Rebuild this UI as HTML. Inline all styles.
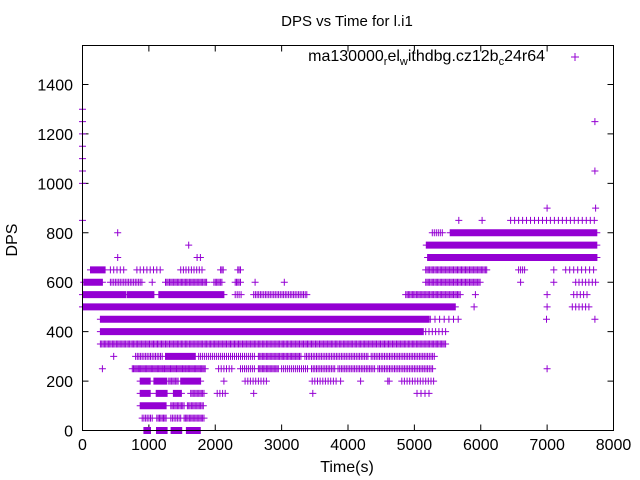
<!DOCTYPE html>
<html><head><meta charset="utf-8"><style>
body{margin:0;background:#fff}
svg{display:block;font-family:"Liberation Sans",sans-serif}
</style></head><body>
<svg id="c" width="640" height="480">
<rect width="640" height="480" fill="#fff"/>
<text x="347" y="26" font-size="15" text-anchor="middle">DPS vs Time for l.i1</text>
<g id="axes"></g>
<path id="pts" fill="none" stroke="#9400d3" stroke-width="1"/>
<rect x="82.5" y="45.5" width="531" height="385" fill="none" stroke="#000"/>
<text x="17" y="240" font-size="16" text-anchor="middle" transform="rotate(-90 17 240)">DPS</text>
<text x="347" y="472" font-size="16" text-anchor="middle">Time(s)</text>
<g>
<text x="545" y="61" font-size="16" text-anchor="end">ma130000<tspan font-size="11" dy="4">r</tspan><tspan dy="-4">el</tspan><tspan font-size="11" dy="4">w</tspan><tspan dy="-4">ithdbg.cz12b</tspan><tspan font-size="11" dy="4">c</tspan><tspan dy="-4">24r64</tspan></text>
<path d="M571 57h8M575 53v8" stroke="#9400d3"/>
</g>
</svg>
<script>
// data: [dps, tStart, tEnd, step]
const levels=[0,50,100,150,200,250,300,350,400,450,500,550,600,650,700,750,800,850,900];
const runs=[
[0,925,1025,10],[0,1115,1275,10],[0,1335,1500,10],[0,1565,1780,10],
[50,900,1050,25],[50,1120,1275,20],[50,1330,1480,25],[50,1530,1830,20],
[100,870,1270,15],[100,1330,1530,20],[100,1580,1830,20],
[150,870,1020,15],[150,1110,1280,15],[150,1370,1500,15],[150,1630,1830,20],[150,2030,2150,40],[150,2580,2580,1],[150,3470,3470,1],[150,5040,5240,60],
[200,870,1020,15],[200,1075,1280,15],[200,1300,1450,20],[200,1480,1780,15],[200,2130,2130,1],[200,2450,2800,40],[200,3460,3840,40],[200,3888,3888,1],[200,4190,4190,1],[200,4600,4620,20],[200,4810,5290,40],
[250,300,300,1],[250,750,1850,18],[250,2050,2250,40],[250,2380,2600,30],[250,2650,2950,20],[250,3000,3400,30],[250,3450,3800,25],[250,3850,4400,25],[250,4450,5290,25],[250,7000,7000,1],
[300,470,470,1],[300,800,1200,25],[300,1250,1700,15],[300,1750,2600,30],[300,2650,3300,20],[300,3350,4300,25],[300,4350,5320,25],
[350,270,5470,20],
[400,270,5140,7],[400,5170,5490,50],
[450,270,5220,5],[450,5240,5670,70],[450,6990,6990,1],[450,7720,7720,1],
[500,0,5620,9],[500,5900,5900,1],[500,7000,7000,1],[500,7380,7630,50],
[550,0,650,8],[550,670,1075,15],[550,1150,2130,14],[550,2300,2400,30],[550,2580,3380,25],[550,4870,5700,20],[550,5920,5920,1],[550,7000,7000,1],[550,7400,7600,50],
[600,20,300,8],[600,420,900,25],[600,1050,1050,1],[600,1250,1880,20],[600,1980,2100,20],[600,2300,2380,20],[600,2600,2600,1],[600,3040,3040,1],[600,5170,6000,20],[600,6600,6600,1],[600,7100,7100,1],[600,7430,7730,50],
[650,120,345,10],[650,420,650,50],[650,820,1200,50],[650,1480,1830,40],[650,2080,2120,20],[650,2340,2380,20],[650,5170,6100,20],[650,6570,6670,30],[650,7100,7100,1],[650,7280,7730,60],
[700,530,530,1],[700,1727,1780,50],[700,5200,7750,6],
[750,1600,1600,1],[750,5180,7750,6],
[800,530,530,1],[800,5270,5420,30],[800,5540,7750,8],
[850,5670,5670,1],[850,6020,6020,1],[850,6450,7750,60],
[900,7000,7000,1],[900,7730,7730,1],
[850,0,0,1],[1000,0,0,1],[1050,0,0,1],[1100,0,0,1],[1150,0,0,1],[1200,0,0,1],[1250,0,0,1],[1300,0,0,1],
[1050,7720,7720,1],[1250,7720,7720,1],[250,7000,7000,1]
];
const xTicks=[0,1000,2000,3000,4000,5000,6000,7000,8000];
const yTicks=[0,200,400,600,800,1000,1200,1400];
const X=t=>82.5+t*531/8000;
const Y=v=>430.5-v*346/1400;
let d='';
for(const [v,a,b,s] of runs){
  for(let t=a;t<=b;t+=s){const x=X(t),y=Y(v);d+=`M${(x-3.5).toFixed(1)} ${y.toFixed(1)}h7M${x.toFixed(1)} ${(y-3.5).toFixed(1)}v7`;}
}
document.getElementById('pts').setAttribute('d',d);
const ax=document.getElementById('axes');const NS='http://www.w3.org/2000/svg';
for(const t of xTicks){
  const x=X(t);
  const p=document.createElementNS(NS,'path');
  p.setAttribute('d',`M${x} 430.5v-6M${x} 45.5v6`);p.setAttribute('stroke','#000');
  
  
  ax.appendChild(p);
  const l=document.createElementNS(NS,'text');
  l.setAttribute('x',x);l.setAttribute('y',450);l.setAttribute('font-size','16');l.setAttribute('text-anchor','middle');
  l.textContent=t;
  
  
  ax.appendChild(l);
}
for(const v of yTicks){
  const y=Y(v);
  const p=document.createElementNS(NS,'path');
  p.setAttribute('d',`M82.5 ${y}h6M613.5 ${y}h-6`);p.setAttribute('stroke','#000');
  
  
  ax.appendChild(p);
  const l=document.createElementNS(NS,'text');
  l.setAttribute('x',73);l.setAttribute('y',y+6);l.setAttribute('font-size','16');l.setAttribute('text-anchor','end');
  l.textContent=v;
  
  
  ax.appendChild(l);
}
</script>
</body></html>
